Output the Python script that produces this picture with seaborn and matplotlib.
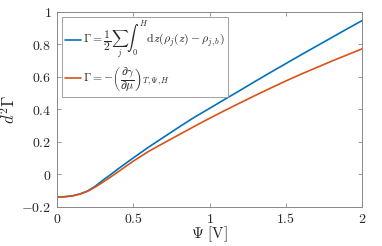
import numpy as np
import pandas as pd
import matplotlib
matplotlib.use('Agg')
import matplotlib.pyplot as plt
import seaborn as sns

# values
psi = [0, 0.05, 0.1, 0.15, 0.2, 0.25, 0.3, 0.35, 0.4, 0.5, 0.6, 0.7, 0.8, 0.9,
       1.0, 1.1, 1.2, 1.3, 1.4, 1.5, 1.6, 1.7, 1.8, 1.9, 2.0]
gamma_int = [-0.140, -0.139, -0.134, -0.122, -0.104, -0.075, -0.038, -0.004, 0.032,
             0.100, 0.166, 0.228, 0.290, 0.350, 0.405, 0.461, 0.516, 0.572,
             0.627, 0.681, 0.735, 0.788, 0.841, 0.894, 0.946]
gamma_der = [-0.140, -0.139, -0.134, -0.123, -0.106, -0.080, -0.050, -0.019, 0.014,
             0.080, 0.140, 0.192, 0.243, 0.294, 0.344, 0.392, 0.439, 0.485,
             0.530, 0.574, 0.616, 0.656, 0.696, 0.734, 0.772]

lab_int = r'$\Gamma = \dfrac{1}{2}\sum_j \int_0^H \mathrm{d}z(\rho_j(z) - \rho_{j,b})$'
lab_der = r'$\Gamma = -\left(\dfrac{\partial\gamma}{\partial\mu}\right)_{T,\Psi,H}$'

df = pd.concat([
    pd.DataFrame({'psi': psi, 'val': gamma_int, 'series': lab_int}),
    pd.DataFrame({'psi': psi, 'val': gamma_der, 'series': lab_der}),
])

sns.set_style('ticks')
plt.rcParams['font.family'] = ['DejaVu Serif']
plt.rcParams['mathtext.fontset'] = 'cm'

fig = plt.figure(figsize=(3.82, 2.46), dpi=100)
ax = fig.add_axes([0.149, 0.16, 0.799, 0.792])

sns.lineplot(data=df, x='psi', y='val', hue='series',
             palette=['#0072BD', '#D95319'], linewidth=1.2, ax=ax)

ax.set_xlim(0, 2)
ax.set_ylim(-0.2, 1)
xt = [0, 0.5, 1, 1.5, 2]
yt = [-0.2, 0, 0.2, 0.4, 0.6, 0.8, 1]
ax.set_xticks(xt)
ax.set_yticks(yt)
ax.set_xticklabels([f'${t:g}$' for t in xt], fontsize=10)
ax.set_yticklabels([f'${t:g}$' for t in yt], fontsize=10)
ax.tick_params(direction='in', top=True, right=True, length=3, width=0.6,
               color='#888888', pad=4)
for s in ax.spines.values():
    s.set_visible(True)
    s.set_color('#888888')
    s.set_linewidth(0.7)

ax.set_xlabel(r'$\Psi\ \mathrm{[V]}$', fontsize=11, labelpad=-1)
ax.set_ylabel(r'$d^2\Gamma$', fontsize=12, labelpad=2)

leg = ax.legend(loc='upper left', fontsize=8.5, frameon=True, fancybox=False,
                edgecolor='#888888', handlelength=1.3, handletextpad=0.2,
                borderpad=0.3, labelspacing=0.3, borderaxespad=0.4)
leg.get_frame().set_linewidth(0.7)

fig.savefig('out.png', dpi=100)
